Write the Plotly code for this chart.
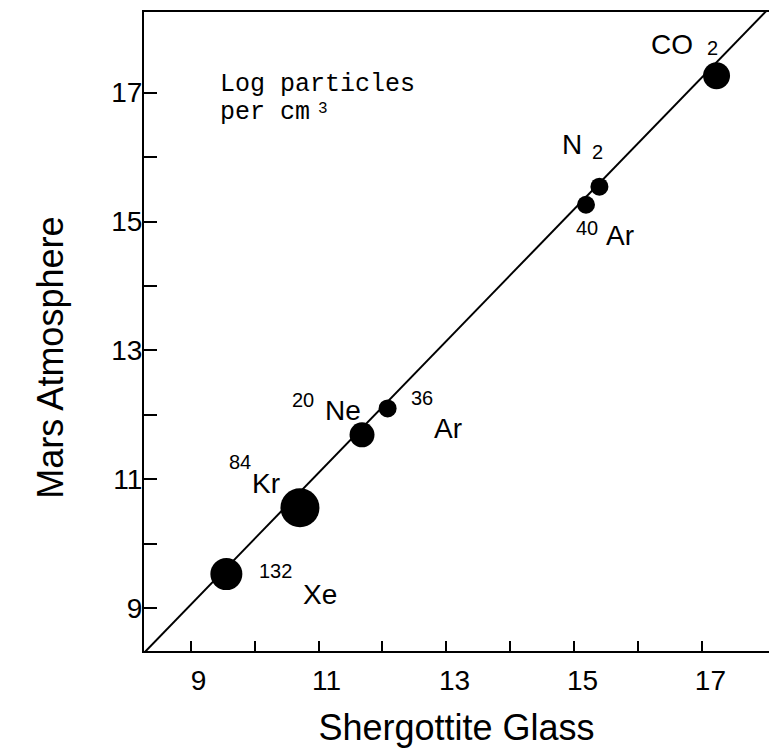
import plotly.graph_objects as go

# Log particles per cm^3 for each gas species
species = ["CO2", "N2", "40Ar", "36Ar", "20Ne", "84Kr", "132Xe"]
shergottite_glass = [17.22, 15.39, 15.18, 12.08, 11.68, 10.71, 9.56]
mars_atmosphere = [17.26, 15.54, 15.26, 12.10, 11.69, 10.56, 9.53]

# label pieces: isotope mass (upper-left), element symbol, molecular subscript
label_mass = ["", "", "40", "36", "20", "84", "132"]
label_symbol = ["CO", "N", "Ar", "Ar", "Ne", "Kr", "Xe"]
label_sub = ["2", "2", "", "", "", "", ""]

# correlation line  y = fit_intercept + fit_slope * x
fit_slope = 1.024
fit_intercept = -0.164

x_ticks = [9, 10, 11, 12, 13, 14, 15, 16, 17]
x_tick_text = ["9", "", "11", "", "13", "", "15", "", "17"]
y_ticks = [9, 10, 11, 12, 13, 14, 15, 16, 17]
y_tick_text = ["9", "", "11", "", "13", "", "15", "", "17"]

x_range = [8.273, 18.04]
y_range = [8.337, 18.25]

# ---- styling ----
marker_px = [27, 18, 18, 18, 25, 39, 32]
symbol_shift = [(-45, 31), (-27, 42), (34, -31), (60, -20), (-19, 24), (-34, 24), (94, -20)]
small_shift = [(-4, 28), (-2, 35), (1, -23), (34, 10), (-59, 35), (-60, 46), (49, 3)]

SANS = "Liberation Sans, Arial, Helvetica, sans-serif"
MONO = "Liberation Mono, Courier New, monospace"

fig = go.Figure()

line_x = [x_range[0], x_range[1]]
line_y = [fit_intercept + fit_slope * v for v in line_x]
fig.add_trace(go.Scatter(
    x=line_x, y=line_y, mode="lines",
    line=dict(color="black", width=2), hoverinfo="skip", showlegend=False,
))

fig.add_trace(go.Scatter(
    x=shergottite_glass, y=mars_atmosphere, mode="markers",
    marker=dict(color="black", size=marker_px, opacity=1, line=dict(width=0)),
    text=species, hovertemplate="%{text}: %{x}, %{y}<extra></extra>",
    showlegend=False,
))

annotations = []
for i in range(len(species)):
    sx, sy = symbol_shift[i]
    annotations.append(dict(
        x=shergottite_glass[i], y=mars_atmosphere[i], xref="x", yref="y",
        text=label_symbol[i], showarrow=False, xshift=sx, yshift=sy,
        font=dict(family=SANS, size=28, color="black"),
    ))
    small = label_mass[i] or label_sub[i]
    mx, my = small_shift[i]
    annotations.append(dict(
        x=shergottite_glass[i], y=mars_atmosphere[i], xref="x", yref="y",
        text=small, showarrow=False, xshift=mx, yshift=my,
        font=dict(family=SANS, size=20, color="black"),
    ))

# unit note
annotations.append(dict(
    x=0.118, y=0.912, xref="paper", yref="paper", xanchor="left", yanchor="top",
    text="Log particles", showarrow=False,
    font=dict(family=MONO, size=25, color="black"),
))
annotations.append(dict(
    x=0.118, y=0.869, xref="paper", yref="paper", xanchor="left", yanchor="top",
    text="per cm", showarrow=False,
    font=dict(family=MONO, size=25, color="black"),
))
annotations.append(dict(
    x=0.2755, y=0.866, xref="paper", yref="paper", xanchor="left", yanchor="top",
    text="3", showarrow=False,
    font=dict(family=MONO, size=16, color="black"),
))

# y-axis title
annotations.append(dict(
    x=-0.187, y=0.4585, xref="paper", yref="paper",
    text="Mars Atmosphere", textangle=-90, showarrow=False,
    font=dict(family=SANS, size=36, color="black"),
))

fig.update_layout(
    width=769, height=756,
    margin=dict(l=144, r=0, t=12, b=105),
    paper_bgcolor="white", plot_bgcolor="white",
    annotations=annotations,
    xaxis=dict(
        range=x_range, tickvals=x_ticks, ticktext=x_tick_text,
        ticks="inside", ticklen=10, tickwidth=2, tickcolor="black",
        showline=True, linecolor="black", linewidth=2, mirror=True,
        showgrid=False, zeroline=False, ticklabelshift=8, ticklabelstandoff=3,
        tickfont=dict(family=SANS, size=28, color="black"),
        title=dict(text="Shergottite Glass", standoff=20,
                   font=dict(family=SANS, size=36, color="black")),
    ),
    yaxis=dict(
        range=y_range, tickvals=y_ticks, ticktext=y_tick_text,
        ticks="inside", ticklen=13, tickwidth=2, tickcolor="black",
        showline=True, linecolor="black", linewidth=2, mirror=False,
        showgrid=False, zeroline=False, ticklabelstandoff=-6,
        tickfont=dict(family=SANS, size=28, color="black"),
    ),
)

fig.write_html("out.html")
